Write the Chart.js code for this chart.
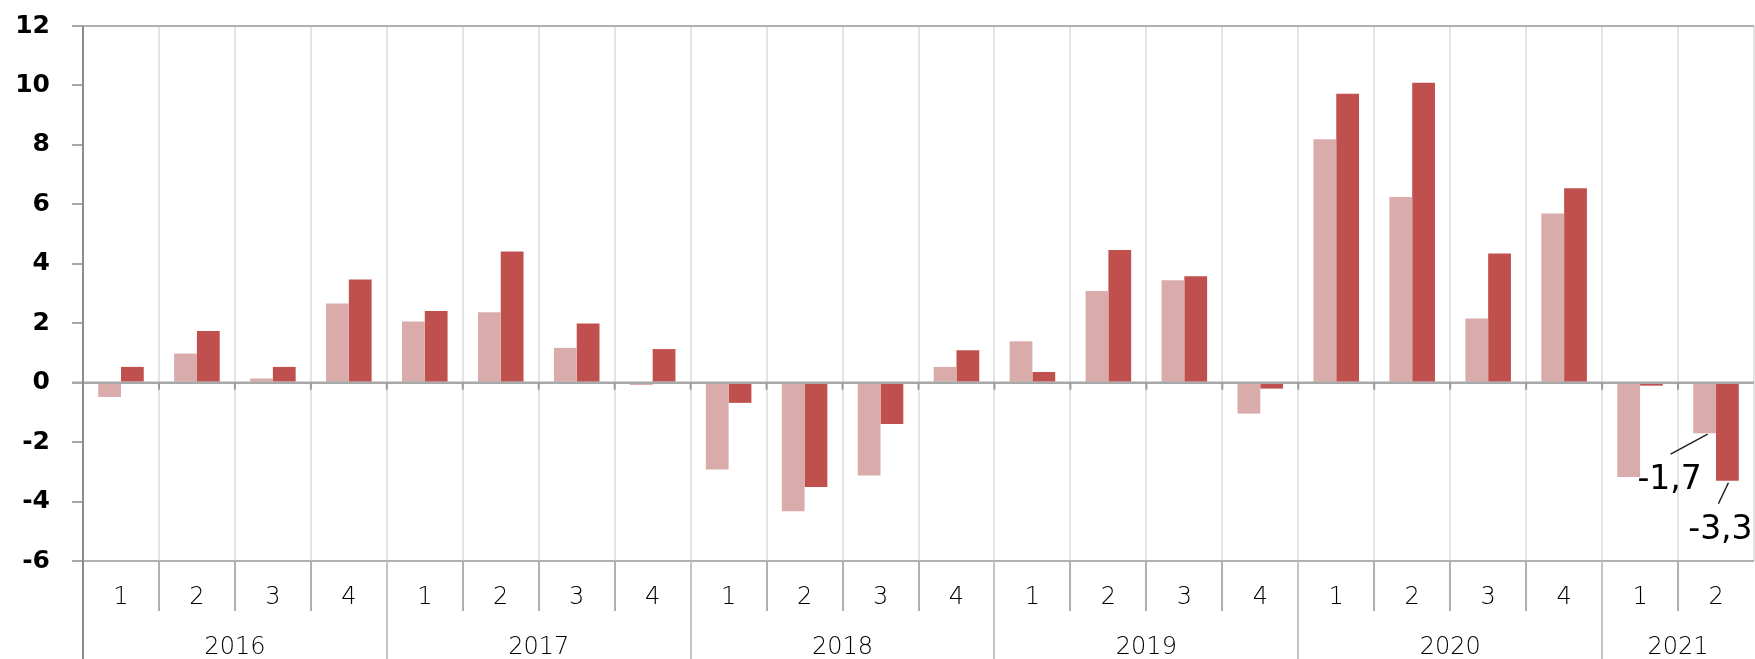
<!DOCTYPE html>
<html lang="en">

<head>
    <meta charset="UTF-8">
    <title>Quarterly change</title>
    <script src="https://cdn.jsdelivr.net/npm/chart.js"></script>
    <style>
        body {
            margin: 0;
            background: #ffffff;
        }

        #wrap {
            width: 1755px;
            height: 659px;
        }
    </style>
</head>

<body>
    <div id="wrap">
        <canvas id="quarterChart"></canvas>
    </div>

    <script>
        // quarters and years along the x axis
        const quarters = ['1', '2', '3', '4', '1', '2', '3', '4', '1', '2', '3', '4',
            '1', '2', '3', '4', '1', '2', '3', '4', '1', '2'];
        const years = ['2016', '2017', '2018', '2019', '2020', '2021'];
        const quartersPerYear = [4, 4, 4, 4, 4, 2];

        // series values
        const seriesLight = [-0.48, 0.98, 0.14, 2.66, 2.06, 2.37, 1.17, -0.08,
            -2.92, -4.33, -3.12, 0.53, 1.39, 3.08, 3.45, -1.04,
            8.19, 6.25, 2.16, 5.69, -3.17, -1.7];
        const seriesDark = [0.53, 1.74, 0.53, 3.47, 2.41, 4.41, 1.99, 1.13,
            -0.68, -3.51, -1.39, 1.09, 0.36, 4.46, 3.58, -0.2,
            9.72, 10.09, 4.35, 6.54, -0.1, -3.3];

        // value labels shown at the end of the chart
        const callouts = [
            { dataset: 0, index: 21, text: '-1,7' },
            { dataset: 1, index: 21, text: '-3,3' }
        ];

        const quarterTicks = {
            id: 'quarterTicks',
            afterDatasetsDraw(chart) {
                const ctx = chart.ctx;
                const area = chart.chartArea;
                const x = chart.scales.x;
                const y = chart.scales.y;
                const step = (area.right - area.left) / quarters.length;
                const y0 = y.getPixelForValue(0);
                const H = chart.height;

                ctx.save();
                // zero line over the bars
                ctx.strokeStyle = '#a8a8a8';
                ctx.lineWidth = 2.5;
                ctx.beginPath();
                ctx.moveTo(area.left - 11, y0);
                ctx.lineTo(area.right, y0);
                ctx.stroke();

                // small ticks under the zero line
                ctx.strokeStyle = '#9a9a9a';
                ctx.lineWidth = 2;
                for (let i = 1; i < quarters.length; i++) {
                    const bx = x.getPixelForValue(i) - step / 2;
                    ctx.beginPath();
                    ctx.moveTo(bx, y0);
                    ctx.lineTo(bx, y0 + 7);
                    ctx.stroke();
                }

                // separators in the label area
                const yearStarts = [];
                let n = 0;
                quartersPerYear.forEach(q => { yearStarts.push(n); n += q; });
                for (let i = 1; i < quarters.length; i++) {
                    const bx = Math.round(x.getPixelForValue(i) - step / 2);
                    const isYear = yearStarts.includes(i);
                    ctx.strokeStyle = isYear ? '#c4c4c4' : '#b0b0b0';
                    ctx.beginPath();
                    ctx.moveTo(bx, area.bottom);
                    ctx.lineTo(bx, isYear ? H : area.bottom + 50);
                    ctx.stroke();
                }

                // left axis line, down to the bottom edge
                ctx.strokeStyle = '#8c8c8c';
                ctx.lineWidth = 2;
                ctx.beginPath();
                ctx.moveTo(area.left, area.top);
                ctx.lineTo(area.left, H);
                ctx.stroke();

                // year labels
                ctx.fillStyle = '#000000';
                ctx.font = '300 24px "DejaVu Sans"';
                ctx.textAlign = 'center';
                ctx.textBaseline = 'alphabetic';
                years.forEach((yr, k) => {
                    const first = yearStarts[k];
                    const last = first + quartersPerYear[k] - 1;
                    const cx = (x.getPixelForValue(first) + x.getPixelForValue(last)) / 2;
                    ctx.fillText(yr, cx, H - 5);
                });

                // callouts with leader lines
                ctx.font = '33px "DejaVu Sans"';
                ctx.fillStyle = '#000000';
                ctx.strokeStyle = '#222222';
                ctx.lineWidth = 1.5;
                callouts.forEach(c => {
                    const bar = chart.getDatasetMeta(c.dataset).data[c.index];
                    if (c.dataset === 0) {
                        ctx.beginPath();
                        ctx.moveTo(bar.x + 3, bar.y + 1);
                        ctx.lineTo(bar.x - 34, bar.y + 21);
                        ctx.stroke();
                        ctx.fillText(c.text, bar.x - 35, bar.y + 56);
                    } else {
                        ctx.beginPath();
                        ctx.moveTo(bar.x + 1, bar.y + 2);
                        ctx.lineTo(bar.x - 9, bar.y + 23);
                        ctx.stroke();
                        ctx.fillText(c.text, bar.x - 7, bar.y + 58);
                    }
                });
                ctx.restore();
            }
        };

        const ctx = document.getElementById('quarterChart').getContext('2d');

        new Chart(ctx, {
            type: 'bar',
            data: {
                labels: quarters,
                datasets: [
                    {
                        label: 'A',
                        data: seriesLight,
                        backgroundColor: '#daabab',
                        borderWidth: 0,
                        categoryPercentage: 0.6,
                        barPercentage: 1.0
                    },
                    {
                        label: 'B',
                        data: seriesDark,
                        backgroundColor: '#c0504e',
                        borderWidth: 0,
                        categoryPercentage: 0.6,
                        barPercentage: 1.0
                    }
                ]
            },
            options: {
                responsive: true,
                maintainAspectRatio: false,
                animation: false,
                layout: {
                    padding: { top: 26, right: 1, left: 0, bottom: 0 }
                },
                plugins: {
                    legend: { display: false },
                    tooltip: { enabled: false }
                },
                scales: {
                    x: {
                        afterFit: scale => {
                            scale.height = 98;
                            scale.paddingLeft = 0;
                            scale.paddingRight = 0;
                        },
                        grid: {
                            offset: true,
                            color: '#e4e4e4',
                            lineWidth: 2,
                            drawTicks: false
                        },
                        border: { display: false },
                        ticks: {
                            color: '#000000',
                            padding: 22,
                            font: { family: 'DejaVu Sans', size: 24, weight: '300' },
                            maxRotation: 0,
                            autoSkip: false
                        }
                    },
                    y: {
                        min: -6,
                        max: 12,
                        afterFit: scale => {
                            scale.width = 83;
                            scale.paddingTop = 0;
                            scale.paddingBottom = 0;
                        },
                        grid: {
                            color: c => (c.tick.value === 12 || c.tick.value === -6) ? '#b0b0b0' : 'rgba(0,0,0,0)',
                            lineWidth: 2,
                            tickLength: 11,
                            tickColor: '#a8a8a8'
                        },
                        border: { display: false },
                        ticks: {
                            stepSize: 2,
                            color: '#000000',
                            padding: 22,
                            font: { family: 'DejaVu Sans', size: 25, weight: 'bold' }
                        }
                    }
                }
            },
            plugins: [quarterTicks]
        });
    </script>
</body>

</html>
